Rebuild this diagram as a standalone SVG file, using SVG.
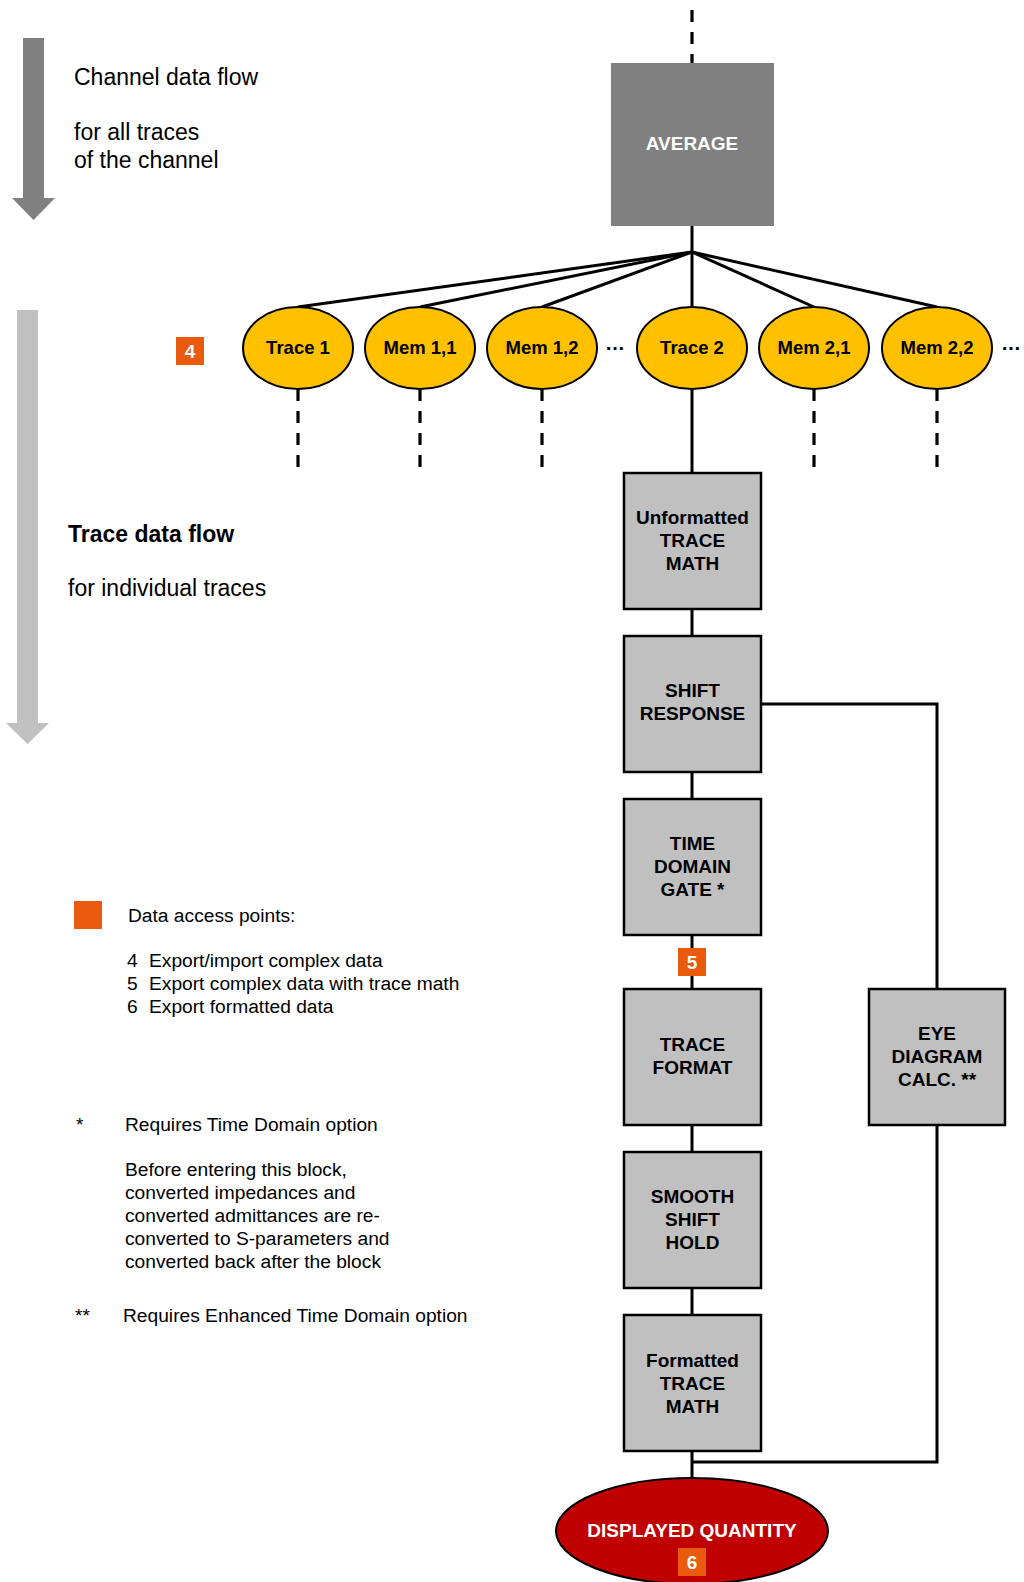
<svg xmlns="http://www.w3.org/2000/svg" width="1024" height="1582" viewBox="0 0 1024 1582">
<style>
text{font-family:"Liberation Sans",Arial,sans-serif;fill:#000}
.h{font-size:23px}
.hb{font-size:23px;font-weight:bold}
.l{font-size:19.2px}
.b{font-size:19px;font-weight:bold;text-anchor:middle}
.e{font-size:18.5px;font-weight:bold;text-anchor:middle}
.w{fill:#fff}
.box{fill:#c0c0c0;stroke:#000;stroke-width:2.5}
.ell{fill:#ffc000;stroke:#000;stroke-width:2}
.ap{fill:#e95a0c}
.ln{fill:none;stroke:#000;stroke-width:3}
.dash{fill:none;stroke:#000;stroke-width:3.2;stroke-dasharray:12 10}
</style>

<g id="channel-arrow">
<polygon points="23,38 44,38 44,198 55,198 33.5,220 12,198 23,198" fill="#808080"/>
<text class="h" x="74" y="85">Channel data flow</text>
<text class="h" x="74" y="140">for all traces</text>
<text class="h" x="74" y="168">of the channel</text>
</g>

<g id="trace-arrow">
<polygon points="17,310 38,310 38,723 49,723 27.5,744 6,723 17,723" fill="#c0c0c0"/>
<text class="hb" x="68" y="542">Trace data flow</text>
<text class="h" x="68" y="596">for individual traces</text>
</g>

<g id="connectors">
<line class="dash" x1="692" y1="10" x2="692" y2="63"/>
<line class="ln" x1="692" y1="226" x2="692" y2="252"/>
<line class="ln" x1="692" y1="252" x2="298" y2="307"/>
<line class="ln" x1="692" y1="252" x2="420" y2="307"/>
<line class="ln" x1="692" y1="252" x2="542" y2="307"/>
<line class="ln" x1="692" y1="252" x2="692" y2="307"/>
<line class="ln" x1="692" y1="252" x2="814" y2="307"/>
<line class="ln" x1="692" y1="252" x2="937" y2="307"/>
<line class="dash" x1="298" y1="389" x2="298" y2="470"/>
<line class="dash" x1="420" y1="389" x2="420" y2="470"/>
<line class="dash" x1="542" y1="389" x2="542" y2="470"/>
<line class="dash" x1="814" y1="389" x2="814" y2="470"/>
<line class="dash" x1="937" y1="389" x2="937" y2="470"/>
<line class="ln" x1="692" y1="389" x2="692" y2="473"/>
<line class="ln" x1="692" y1="609" x2="692" y2="636"/>
<line class="ln" x1="692" y1="772" x2="692" y2="799"/>
<line class="ln" x1="692" y1="935" x2="692" y2="989"/>
<line class="ln" x1="692" y1="1125" x2="692" y2="1152"/>
<line class="ln" x1="692" y1="1288" x2="692" y2="1315"/>
<line class="ln" x1="692" y1="1451" x2="692" y2="1478"/>
<polyline class="ln" points="761,704 937,704 937,989"/>
<polyline class="ln" points="937,1125 937,1462 692,1462"/>
</g>

<g id="average">
<rect x="611" y="63" width="163" height="163" fill="#808080"/>
<text class="b w" x="692" y="150">AVERAGE</text>
</g>

<g id="trace1"><ellipse class="ell" cx="298" cy="348" rx="55" ry="41"/><text class="e" x="298" y="354">Trace 1</text></g>
<g id="mem11"><ellipse class="ell" cx="420" cy="348" rx="55" ry="41"/><text class="e" x="420" y="354">Mem 1,1</text></g>
<g id="mem12"><ellipse class="ell" cx="542" cy="348" rx="55" ry="41"/><text class="e" x="542" y="354">Mem 1,2</text></g>
<g id="trace2"><ellipse class="ell" cx="692" cy="348" rx="55" ry="41"/><text class="e" x="692" y="354">Trace 2</text></g>
<g id="mem21"><ellipse class="ell" cx="814" cy="348" rx="55" ry="41"/><text class="e" x="814" y="354">Mem 2,1</text></g>
<g id="mem22"><ellipse class="ell" cx="937" cy="348" rx="55" ry="41"/><text class="e" x="937" y="354">Mem 2,2</text></g>
<g id="dots">
<text x="605" y="350" style="font-size:20px;font-weight:bold">…</text>
<text x="1001" y="350" style="font-size:20px;font-weight:bold">…</text>
</g>

<g id="ap4"><rect class="ap" x="176" y="337" width="28" height="28"/><text class="b w" x="190" y="358">4</text></g>

<g id="unformatted-math">
<rect class="box" x="624" y="473" width="137" height="136"/>
<text class="b" x="692.5" y="524">Unformatted</text>
<text class="b" x="692.5" y="547">TRACE</text>
<text class="b" x="692.5" y="570">MATH</text>
</g>
<g id="shift-response">
<rect class="box" x="624" y="636" width="137" height="136"/>
<text class="b" x="692.5" y="697">SHIFT</text>
<text class="b" x="692.5" y="720">RESPONSE</text>
</g>
<g id="time-domain-gate">
<rect class="box" x="624" y="799" width="137" height="136"/>
<text class="b" x="692.5" y="850">TIME</text>
<text class="b" x="692.5" y="873">DOMAIN</text>
<text class="b" x="692.5" y="896">GATE *</text>
</g>
<g id="ap5"><rect class="ap" x="678" y="948" width="28" height="28"/><text class="b w" x="692" y="969">5</text></g>
<g id="trace-format">
<rect class="box" x="624" y="989" width="137" height="136"/>
<text class="b" x="692.5" y="1051">TRACE</text>
<text class="b" x="692.5" y="1074">FORMAT</text>
</g>
<g id="eye-diagram">
<rect class="box" x="869" y="989" width="136" height="136"/>
<text class="b" x="937" y="1040">EYE</text>
<text class="b" x="937" y="1063">DIAGRAM</text>
<text class="b" x="937" y="1086">CALC. **</text>
</g>
<g id="smooth">
<rect class="box" x="624" y="1152" width="137" height="136"/>
<text class="b" x="692.5" y="1203">SMOOTH</text>
<text class="b" x="692.5" y="1226">SHIFT</text>
<text class="b" x="692.5" y="1249">HOLD</text>
</g>
<g id="formatted-math">
<rect class="box" x="624" y="1315" width="137" height="136"/>
<text class="b" x="692.5" y="1367">Formatted</text>
<text class="b" x="692.5" y="1390">TRACE</text>
<text class="b" x="692.5" y="1413">MATH</text>
</g>
<g id="displayed-quantity">
<ellipse cx="692" cy="1531" rx="136" ry="53" fill="#c00000" stroke="#000" stroke-width="2"/>
<text class="b w" x="692" y="1537">DISPLAYED QUANTITY</text>
<rect class="ap" x="678" y="1548" width="28" height="28"/>
<text class="b w" x="692" y="1569">6</text>
</g>

<g id="legend">
<rect class="ap" x="74" y="901" width="28" height="28"/>
<text class="l" x="128" y="922">Data access points:</text>
<text class="l" x="127" y="967">4</text><text class="l" x="149" y="967">Export/import complex data</text>
<text class="l" x="127" y="990">5</text><text class="l" x="149" y="990">Export complex data with trace math</text>
<text class="l" x="127" y="1013">6</text><text class="l" x="149" y="1013">Export formatted data</text>
<text class="l" x="76" y="1131">*</text>
<text class="l" x="125" y="1131">Requires Time Domain option</text>
<text class="l" x="125" y="1176">Before entering this block,</text>
<text class="l" x="125" y="1199">converted impedances and</text>
<text class="l" x="125" y="1222">converted admittances are re-</text>
<text class="l" x="125" y="1245">converted to S-parameters and</text>
<text class="l" x="125" y="1268">converted back after the block</text>
<text class="l" x="75" y="1322">**</text>
<text class="l" x="123" y="1322">Requires Enhanced Time Domain option</text>
</g>
</svg>
